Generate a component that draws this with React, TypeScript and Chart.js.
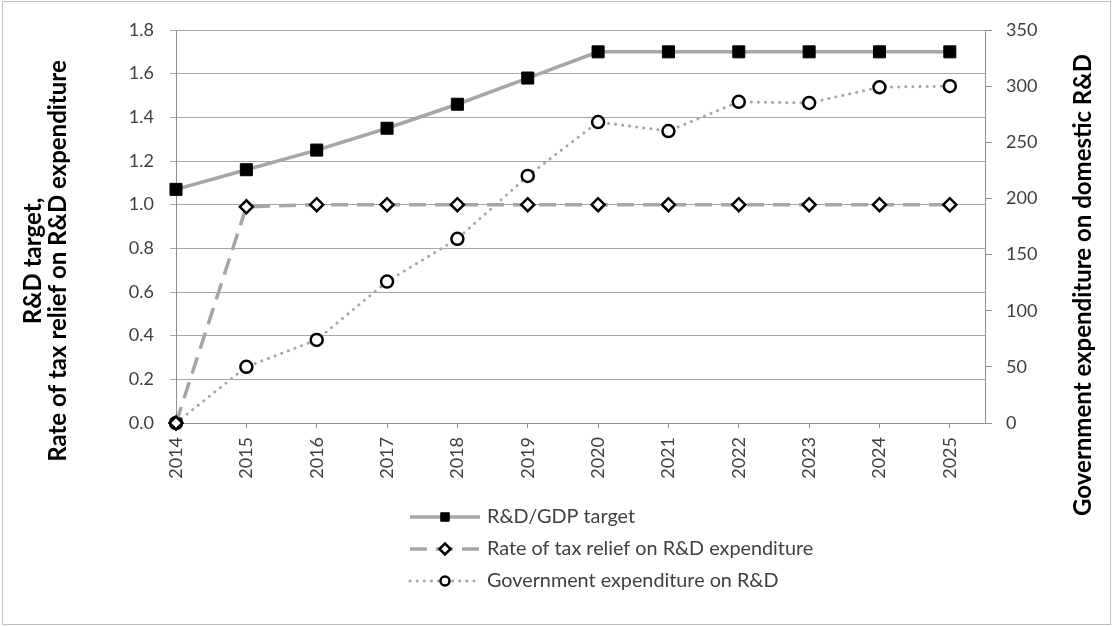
import React, { useEffect, useRef } from 'react';
import { Chart, registerables } from 'chart.js';
import { drawPoint } from 'chart.js/helpers';

Chart.register(...registerables);

// ---- data ----
const years = [2014, 2015, 2016, 2017, 2018, 2019, 2020, 2021, 2022, 2023, 2024, 2025];
const rdGdpTarget = [1.07, 1.16, 1.25, 1.35, 1.46, 1.58, 1.7, 1.7, 1.7, 1.7, 1.7, 1.7];
const taxReliefRate = [0, 0.99, 1.0, 1.0, 1.0, 1.0, 1.0, 1.0, 1.0, 1.0, 1.0, 1.0];
const govExpenditure = [0, 50, 74, 126, 164, 220, 268, 260, 286, 285, 299, 300];

const seriesLabels = [
  'R&D/GDP target',
  'Rate of tax relief on R&D expenditure',
  'Government expenditure on R&D',
];
const leftAxisTitle = ['R&D target,', 'Rate of tax relief on R&D expenditure'];
const rightAxisTitle = 'Government expenditure on domestic R&D';

// ---- styling ----
const FONT = 'Lato, "Open Sans", sans-serif';
const LINE_GREY = '#a6a6a6';
const GRID_GREY = '#a6a6a6';
const AXIS_GREY = '#8f8f8f';
const TEXT = '#404040';
const TITLE_FONT = `bold 24px ${FONT}`;

// legend marker sizes are smaller than the plotted markers
const legendMarkerRadius = [6, 5.5, 4.5];

const frameTitlesLegend = {
  id: 'frameTitlesLegend',
  beforeDraw(chart: any) {
    const { ctx, width, height } = chart;
    ctx.save();
    ctx.fillStyle = '#ffffff';
    ctx.fillRect(0, 0, width, height);
    ctx.strokeStyle = '#bfbfbf';
    ctx.lineWidth = 1;
    ctx.strokeRect(2.5, 1.5, width - 4, height - 3);
    ctx.restore();
  },
  afterDraw(chart: any) {
    const { ctx } = chart;

    // axis titles, both reading bottom-to-top
    ctx.save();
    ctx.fillStyle = '#000000';
    ctx.font = TITLE_FONT;
    ctx.textAlign = 'center';
    ctx.textBaseline = 'middle';
    leftAxisTitle.forEach((line, i) => {
      ctx.save();
      ctx.translate(33 + i * 25, 261);
      ctx.rotate(-Math.PI / 2);
      ctx.fillText(line, 0, 0);
      ctx.restore();
    });
    ctx.save();
    ctx.translate(1083, 285);
    ctx.rotate(-Math.PI / 2);
    ctx.fillText(rightAxisTitle, 0, 0);
    ctx.restore();
    ctx.restore();

    // stacked legend below the plot
    const x0 = 410;
    const x1 = 480;
    const xm = 445;
    const textX = 487;
    const rowY = [517, 549, 581];
    chart.data.datasets.forEach((ds: any, i: number) => {
      const y = rowY[i];
      ctx.save();
      ctx.strokeStyle = ds.borderColor;
      ctx.lineWidth = ds.borderWidth;
      ctx.lineCap = ds.borderCapStyle || 'butt';
      ctx.setLineDash(ds.borderDash || []);
      ctx.beginPath();
      ctx.moveTo(x0, y);
      ctx.lineTo(x1, y);
      ctx.stroke();
      ctx.restore();

      ctx.save();
      ctx.setLineDash([]);
      ctx.fillStyle = ds.pointBackgroundColor;
      ctx.strokeStyle = ds.pointBorderColor;
      ctx.lineWidth = ds.pointBorderWidth;
      drawPoint(
        ctx,
        {
          pointStyle: ds.pointStyle,
          radius: legendMarkerRadius[i],
          borderWidth: ds.pointBorderWidth,
          rotation: 0,
        } as any,
        xm,
        y
      );
      ctx.restore();

      ctx.save();
      ctx.fillStyle = TEXT;
      ctx.font = `19.8px ${FONT}`;
      ctx.textAlign = 'left';
      ctx.textBaseline = 'middle';
      ctx.fillText(ds.label, textX, y);
      ctx.restore();
    });
  },
};

export default function App() {
  const canvasRef = useRef<HTMLCanvasElement | null>(null);

  useEffect(() => {
    const canvas = canvasRef.current;
    if (!canvas) return;

    const toPoints = (vals: number[]) => years.map((yr, i) => ({ x: yr, y: vals[i] }));

    const chart = new Chart(canvas, {
      type: 'line',
      data: {
        datasets: [
          {
            label: seriesLabels[0],
            data: toPoints(rdGdpTarget),
            yAxisID: 'y',
            clip: false,
            borderColor: LINE_GREY,
            borderWidth: 3.5,
            pointStyle: 'rect',
            pointRadius: 8.5,
            pointBackgroundColor: '#000000',
            pointBorderColor: '#000000',
            pointBorderWidth: 1,
            tension: 0,
          },
          {
            label: seriesLabels[1],
            data: toPoints(taxReliefRate),
            yAxisID: 'y',
            clip: false,
            borderColor: LINE_GREY,
            borderWidth: 3.5,
            borderDash: [17, 9],
            pointStyle: 'rectRot',
            pointRadius: 6.5,
            pointBackgroundColor: '#ffffff',
            pointBorderColor: '#000000',
            pointBorderWidth: 2.5,
            tension: 0,
          },
          {
            label: seriesLabels[2],
            data: toPoints(govExpenditure),
            yAxisID: 'y1',
            clip: false,
            borderColor: LINE_GREY,
            borderWidth: 3,
            borderDash: [0.1, 7],
            borderCapStyle: 'round',
            pointStyle: 'circle',
            pointRadius: 6,
            pointBackgroundColor: '#ffffff',
            pointBorderColor: '#000000',
            pointBorderWidth: 2.5,
            tension: 0,
          },
        ] as any,
      },
      options: {
        responsive: false,
        animation: false,
        devicePixelRatio: 1,
        layout: { padding: { top: 30, left: 0, right: 0, bottom: 0 } },
        plugins: {
          legend: { display: false },
          tooltip: { enabled: false },
        },
        scales: {
          x: {
            type: 'linear',
            position: 'bottom',
            min: years[0],
            max: years[years.length - 1] + 0.5,
            afterBuildTicks: (scale: any) => {
              scale.ticks = years.map((v) => ({ value: v }));
            },
            afterFit: (scale: any) => {
              scale.height = 203;
            },
            ticks: {
              autoSkip: false,
              minRotation: 90,
              maxRotation: 90,
              padding: 9,
              color: TEXT,
              font: { family: FONT, size: 18 },
              callback: (v: any) => String(v),
            },
            grid: {
              drawOnChartArea: false,
              drawTicks: true,
              tickLength: 5,
              color: AXIS_GREY,
            },
            border: { display: true, color: AXIS_GREY, width: 1 },
          },
          y: {
            type: 'linear',
            position: 'left',
            min: 0,
            max: 1.8,
            afterFit: (scale: any) => {
              scale.width = 176;
            },
            ticks: {
              stepSize: 0.2,
              padding: 16,
              color: TEXT,
              font: { family: FONT, size: 18 },
              callback: (v: any) => Number(v).toFixed(1),
            },
            grid: {
              drawOnChartArea: true,
              drawTicks: true,
              tickLength: 6,
              color: GRID_GREY,
            },
            border: { display: true, color: AXIS_GREY, width: 1 },
          },
          y1: {
            type: 'linear',
            position: 'right',
            min: 0,
            max: 350,
            afterFit: (scale: any) => {
              scale.width = 127;
            },
            ticks: {
              stepSize: 50,
              padding: 14,
              color: TEXT,
              font: { family: FONT, size: 18 },
            },
            grid: {
              drawOnChartArea: false,
              drawTicks: true,
              tickLength: 7,
              color: AXIS_GREY,
            },
            border: { display: true, color: AXIS_GREY, width: 1 },
          },
        },
      } as any,
      plugins: [frameTitlesLegend],
    });

    return () => chart.destroy();
  }, []);

  return (
    <div style={{ position: 'absolute', left: 0, top: 0, width: 1112, height: 626, background: '#ffffff' }}>
      <canvas ref={canvasRef} width={1112} height={626} style={{ width: 1112, height: 626, display: 'block' }} />
    </div>
  );
}
